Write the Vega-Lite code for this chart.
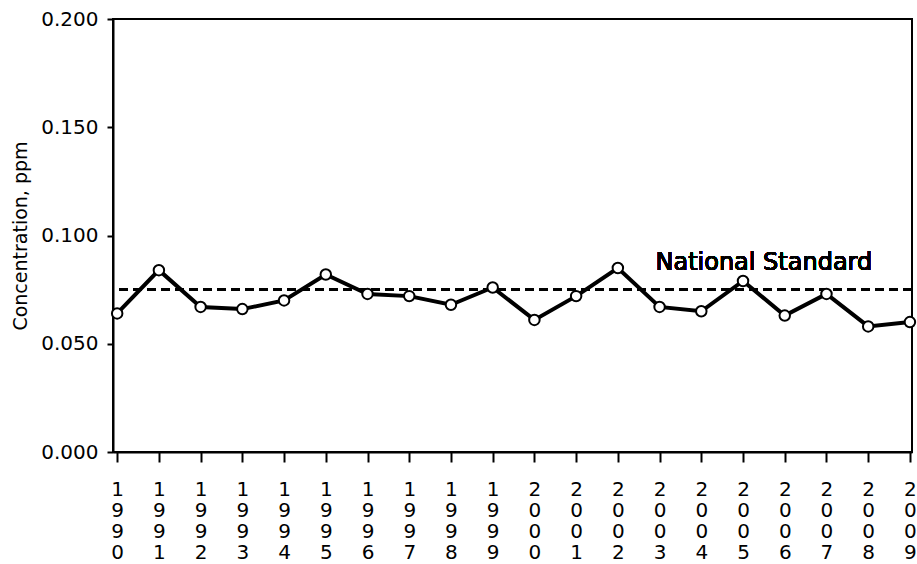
{
  "$schema": "https://vega.github.io/schema/vega-lite/v6.json",
  "width": 799,
  "height": 433,
  "autosize": "none",
  "padding": {"left": 113, "top": 19, "right": 5, "bottom": 112},
  "background": "white",
  "config": {
    "font": "DejaVu Sans",
    "view": {"stroke": "black", "strokeWidth": 2},
    "axis": {"grid": false, "domainColor": "black", "domainWidth": 2, "tickColor": "black", "tickWidth": 2, "labelColor": "black", "titleColor": "black", "labelFont": "DejaVu Sans", "titleFont": "DejaVu Sans"}
  },
  "data": {
    "values": [
      {"year": 1990, "conc": 0.064},
      {"year": 1991, "conc": 0.084},
      {"year": 1992, "conc": 0.067},
      {"year": 1993, "conc": 0.066},
      {"year": 1994, "conc": 0.070},
      {"year": 1995, "conc": 0.082},
      {"year": 1996, "conc": 0.073},
      {"year": 1997, "conc": 0.072},
      {"year": 1998, "conc": 0.068},
      {"year": 1999, "conc": 0.076},
      {"year": 2000, "conc": 0.061},
      {"year": 2001, "conc": 0.072},
      {"year": 2002, "conc": 0.085},
      {"year": 2003, "conc": 0.067},
      {"year": 2004, "conc": 0.065},
      {"year": 2005, "conc": 0.079},
      {"year": 2006, "conc": 0.063},
      {"year": 2007, "conc": 0.073},
      {"year": 2008, "conc": 0.058},
      {"year": 2009, "conc": 0.060}
    ]
  },
  "layer": [
    {
      "mark": {"type": "rule", "color": "black", "strokeWidth": 2, "strokeDash": [9, 5]},
      "encoding": {"y": {"datum": 0.075, "type": "quantitative"}}
    },
    {
      "mark": {"type": "line", "color": "black", "strokeWidth": 4},
      "encoding": {
        "x": {
          "field": "year", "type": "quantitative",
          "scale": {"domain": [1989.9, 2009.05], "nice": false, "zero": false},
          "axis": {
            "title": null,
            "values": [1990,1991,1992,1993,1994,1995,1996,1997,1998,1999,2000,2001,2002,2003,2004,2005,2006,2007,2008,2009],
            "format": "d",
            "labelExpr": "split(datum.label, '')",
            "labelFontSize": 20,
            "labelLineHeight": 21,
            "labelBaseline": "top",
            "labelAngle": 0,
            "labelPadding": 17,
            "tickSize": 10,
            "labelOverlap": false,
            "labelFlush": false
          }
        },
        "y": {
          "field": "conc", "type": "quantitative",
          "scale": {"domain": [0, 0.2], "nice": false},
          "axis": {
            "title": "Concentration, ppm",
            "values": [0, 0.05, 0.1, 0.15, 0.2],
            "format": ".3f",
            "labelFontSize": 20,
            "labelPadding": 9,
            "tickSize": 6,
            "titleFontSize": 19,
            "titleFontWeight": "normal",
            "titlePadding": 10
          }
        }
      }
    },
    {
      "mark": {"type": "point", "shape": "circle", "filled": false, "fill": "white", "fillOpacity": 1, "stroke": "black", "strokeWidth": 2, "size": 110, "opacity": 1},
      "encoding": {
        "x": {"field": "year", "type": "quantitative"},
        "y": {"field": "conc", "type": "quantitative"}
      }
    },
    {
      "mark": {"type": "text", "text": "National Standard", "fontSize": 24, "align": "center", "baseline": "middle", "color": "black", "font": "DejaVu Sans"},
      "encoding": {
        "x": {"datum": 2005.5, "type": "quantitative"},
        "y": {"datum": 0.0875, "type": "quantitative"}
      }
    }
  ]
}
